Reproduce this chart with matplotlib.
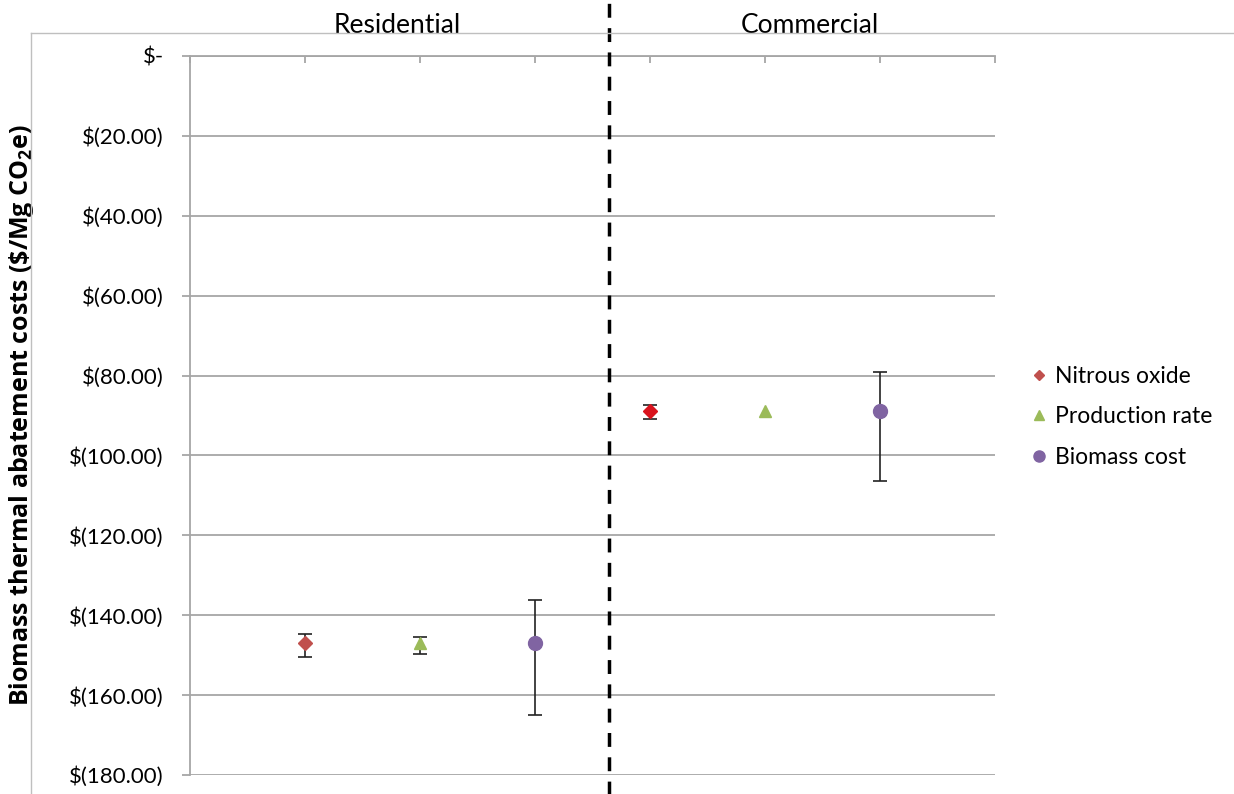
import matplotlib
matplotlib.use("Agg")
import matplotlib.pyplot as plt
from matplotlib.lines import Line2D
from matplotlib.ticker import FuncFormatter, MultipleLocator

plt.rcParams['font.family'] = ['Lato', 'DejaVu Sans']
plt.rcParams['font.size'] = 13
plt.rcParams['mathtext.default'] = 'regular'

# sensitivity results, $/Mg CO2e
sectors = ["Residential", "Commercial"]
factors = ["Nitrous oxide", "Production rate", "Biomass cost"]
res_base = [-147.0, -147.0, -147.0]
res_low = [-150.4, -149.7, -165.0]
res_high = [-144.6, -145.4, -136.3]
com_base = [-88.9, -88.9, -88.9]
com_low = [-90.8, -88.9, -106.4]
com_high = [-87.4, -88.9, -79.0]
res_x = [1, 2, 3]
com_x = [4, 5, 6]

markers = ['D', '^', 'o']
sizes = [7, 9, 10]
colors = ['#C0504D', '#9BBB59', '#8064A2']
com_colors = ['#D9141E', '#9BBB59', '#8064A2']

fig = plt.figure(figsize=(12.34, 7.94), dpi=100)
ax = fig.add_axes([0.154, 0.024, 0.652, 0.9055])

for i in range(3):
    for xs, base, lo, hi, cols in [(res_x, res_base, res_low, res_high, colors),
                                   (com_x, com_base, com_low, com_high, com_colors)]:
        if hi[i] - lo[i] > 0:
            err = [[base[i] - lo[i]], [hi[i] - base[i]]]
            ax.errorbar([xs[i]], [base[i]], yerr=err, fmt='none', ecolor='#222222',
                        elinewidth=1.2, capsize=5, capthick=1.2, zorder=3)
        ax.plot([xs[i]], [base[i]], marker=markers[i], ms=sizes[i], color=cols[i],
                linestyle='none', zorder=4)

ax.set_xlim(0, 7)
ax.set_ylim(-180, 0)
ax.yaxis.set_major_locator(MultipleLocator(20))
ax.yaxis.set_major_formatter(FuncFormatter(
    lambda v, p: "$-" if abs(v) < 1e-9 else "$({:.2f})".format(abs(v))))
ax.grid(axis='y', color='#A6A6A6', linewidth=1.3)
ax.set_axisbelow(True)
ax.tick_params(axis='y', length=6, color='#A6A6A6', width=1.3, pad=13, labelsize=16)
ax.xaxis.tick_top()
ax.set_xticks(range(8))
ax.set_xticklabels([])
ax.tick_params(axis='x', direction='in', length=5, color='#A6A6A6', width=1.3)
for s in ['right', 'bottom']:
    ax.spines[s].set_visible(False)
for s in ['left', 'top']:
    ax.spines[s].set_color('#A6A6A6')
    ax.spines[s].set_linewidth(1.3)

ax.set_ylabel(r"Biomass thermal abatement costs (\$/Mg CO$_2$e)", fontsize=18,
              fontweight='bold', family=['Open Sans', 'DejaVu Sans'])
ax.yaxis.set_label_coords(-0.191, 0.5)

# sector divider and headings
ax.axvline(3.645, ymin=-0.03, ymax=1.08, color='black', linewidth=2.5,
           linestyle=(0, (4, 3)), clip_on=False, zorder=5)
ax.text(1.8, 1.043, sectors[0], transform=ax.get_xaxis_transform(),
        ha='center', va='center', fontsize=19)
ax.text(5.39, 1.043, sectors[1], transform=ax.get_xaxis_transform(),
        ha='center', va='center', fontsize=19)

# outer chart frame
fig.add_artist(Line2D([31 / 1234, 1], [1 - 33 / 794] * 2, color='#BFBFBF', lw=1))
fig.add_artist(Line2D([31 / 1234] * 2, [0, 1 - 33 / 794], color='#BFBFBF', lw=1))

handles = [Line2D([], [], marker=markers[i], ms=sizes[i] - 2, color=colors[i],
                  linestyle='none') for i in range(3)]
fig.legend(handles, factors, loc='center left', bbox_to_anchor=(0.814, 0.475),
           frameon=False, fontsize=16.5, handletextpad=0.1, labelspacing=0.85,
           handlelength=1.2)

fig.savefig("out.png", dpi=100)
